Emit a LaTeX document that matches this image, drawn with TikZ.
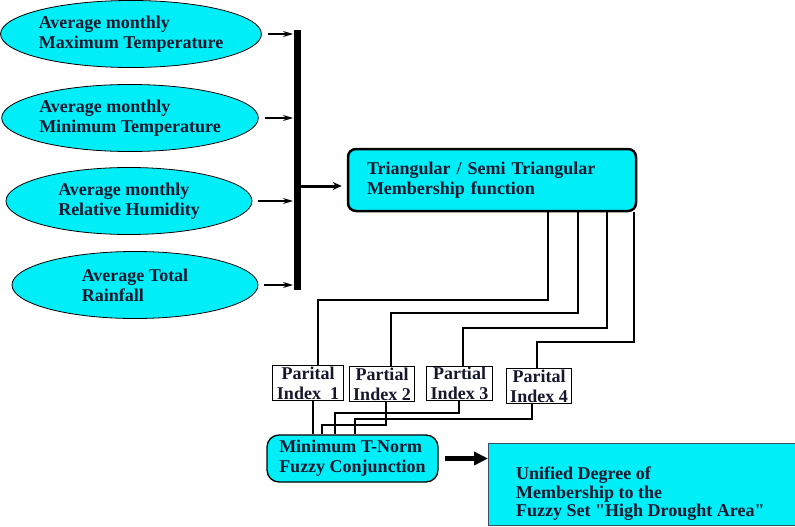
\documentclass[tikz,border=0pt]{standalone}
\usepackage{fontspec}
\setmainfont{Liberation Serif}[Ligatures=TeXOff]
\usepackage{xcolor}
\usetikzlibrary{arrows.meta,shapes.geometric}
\definecolor{boxcyan}{RGB}{0,238,248}
\definecolor{inktext}{RGB}{22,22,45}
\definecolor{boxedge}{RGB}{60,80,100}

\begin{document}
\begin{tikzpicture}[>=Stealth, x=1pt, y=-1pt, text=inktext,
	font=\bfseries\fontsize{18}{20}\selectfont,
	inputell/.style={ellipse,draw,line width=0.8pt,fill=boxcyan,minimum width=246pt,minimum height=67pt,inner sep=0pt,align=left},
	partbox/.style={rectangle,draw,line width=1pt,fill=white,inner xsep=4pt,inner ysep=1pt,align=center},
	wire/.style={line width=2pt}] % fuzzy drought index scheme
	\clip (0,0) rectangle (795,527);
	
	\foreach \i/\x/\y/\name in {1/131/34/{Average monthly\\Maximum Temperature},2/130/118/{Average monthly\\Minimum Temperature},3/129/201/{Average monthly\\Relative Humidity},4/135/285/{Average Total\\Rainfall}}{
		\node[inputell] (in\i) at (\x,\y){\name};
		\coordinate (bar\i) at (293,\y);
		\draw[-{Stealth[length=10pt,width=6pt]},line width=1.3pt,shorten <=6pt] (in\i.east)--(bar\i);
	}
	
	\coordinate (bartop) at (297,30);
	\coordinate (barbot) at (297,290);
	\coordinate (barmid) at (297,186);
	\draw[line width=7pt] (bartop)--(barbot);
	
	\node[draw,line width=2.5pt,rounded corners=8pt,fill=boxcyan,text width=250pt,inner xsep=19pt,minimum height=62pt,align=left] 
	(tri) at (492,180){Triangular / Semi Triangular\\Membership function};
	\draw[-{Stealth[length=9pt,width=8pt]},line width=3pt,shorten >=5pt] (barmid)--(barmid -| tri.west);
	
	\foreach \i/\x/\y/\name in {1/308/383/{Parital\\Index\ \ 1},2/382/384/{Partial\\Index 2},3/459.5/383.5/{Partial\\Index 3},4/539/386/{Parital\\Index 4}}{
		\node[partbox] (p\i) at (\x,\y){\name};
	}
	
	\foreach \i/\xa/\ya/\xb in {1/548/300/318,2/578/313/391,3/607/328/463,4/634/342/537}{
		\draw[wire,line width=2.6pt] (\xa,0 |- tri.south)--(\xa,\ya) -| (\xb,0 |- p\i.north);}
	
	\node[draw,line width=1.3pt,rounded corners=12pt,fill=boxcyan,minimum width=171pt,minimum height=47pt,align=left,inner xsep=8pt] 
	(tnorm) at (352.5,458.5){Minimum T-Norm\\Fuzzy Conjunction};
	
	\draw[wire,line width=2.6pt] (313,0 |- p1.south)--(313,0 |- tnorm.north);
	\foreach \i/\xa/\ya/\xb in {2/386/425/322,3/459/413/335,4/532/419/355}{
		\draw[wire] (\xa,0 |- p\i.south) |- (\xb,\ya)--(\xb,0 |- tnorm.north);}
	
	\node[draw=boxedge,line width=1pt,fill=boxcyan,minimum width=312pt,minimum height=82pt,anchor=north west] 
	(unified) at (488,443){};
	\node[anchor=north west,align=left,inner sep=0pt,font=\bfseries\fontsize{18}{18.5}\selectfont] 
	(unitext) at (516,467){Unified Degree of\\Membership to the\\Fuzzy Set "High Drought Area"};
	\draw[-{Triangle[length=14pt,width=13pt]},line width=5pt,shorten <=6pt] (tnorm.east)--(tnorm.east -| unified.west);
\end{tikzpicture}
\end{document}
